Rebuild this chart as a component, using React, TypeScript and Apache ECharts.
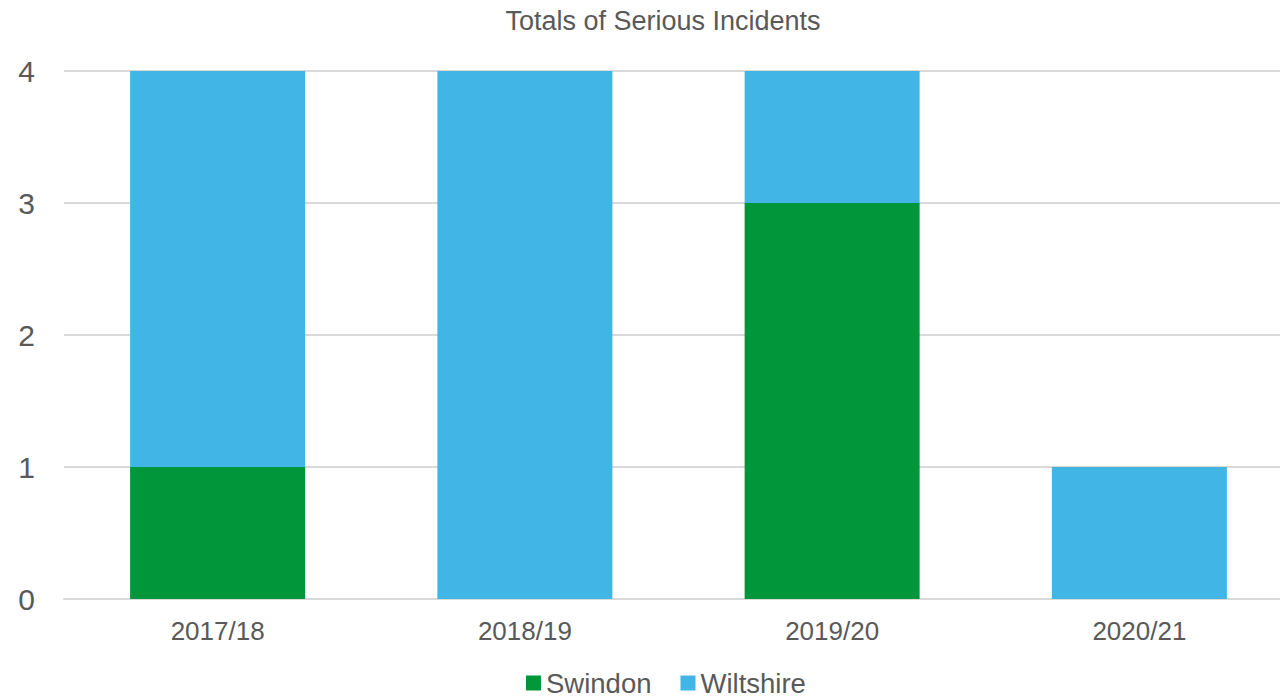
import React, { useEffect, useRef } from "react";
import * as echarts from "echarts";

const categories = ["2017/18", "2018/19", "2019/20", "2020/21"];
const swindon = [1, 0, 3, 0];
const wiltshire = [3, 4, 1, 1];
const yTicks = [0, 1, 2, 3, 4];

export default function App() {
  const ref = useRef<HTMLDivElement>(null);
  useEffect(() => {
    if (!ref.current) return;
    const chart = echarts.init(ref.current, undefined, { renderer: "svg" });
    const font = "Liberation Sans, Arial, sans-serif";
    chart.setOption({
      animation: false,
      title: {
        text: "Totals of Serious Incidents",
        left: 658,
        textAlign: "center",
        top: 2,
        textStyle: { color: "#595959", fontSize: 27, fontWeight: "normal", fontFamily: font },
      },
      legend: {
        data: ["Swindon", "Wiltshire"],
        left: 526,
        top: 669,
        icon: "rect",
        itemWidth: 15,
        itemHeight: 15,
        itemGap: 29,
        padding: 0,
        textStyle: { color: "#595959", fontSize: 27.5, lineHeight: 22, fontFamily: font },
      },
      grid: {
        left: 64,
        width: 1229,
        top: 71,
        height: 528,
        containLabel: false,
        outerBoundsMode: "none",
      },
      xAxis: {
        type: "category",
        data: categories,
        axisLine: { lineStyle: { color: "#d9d9d9", width: 2 } },
        axisTick: { show: false },
        axisLabel: { color: "#595959", fontSize: 26, fontFamily: font, margin: 19 },
      },
      yAxis: {
        type: "value",
        min: yTicks[0],
        max: yTicks[yTicks.length - 1],
        interval: 1,
        axisLine: { show: false },
        axisTick: { show: false },
        axisLabel: { color: "#595959", fontSize: 30, fontFamily: font, margin: 29 },
        splitLine: { lineStyle: { color: "#d9d9d9", width: 2 } },
      },
      series: [
        {
          name: "Swindon",
          type: "bar",
          stack: "total",
          data: swindon,
          barWidth: 175,
          itemStyle: { color: "#009639" },
        },
        {
          name: "Wiltshire",
          type: "bar",
          stack: "total",
          data: wiltshire,
          barWidth: 175,
          itemStyle: { color: "#41B6E6" },
        },
      ],
    });
    return () => chart.dispose();
  }, []);
  return (
    <div
      ref={ref}
      style={{ position: "absolute", left: 0, top: 0, width: 1280, height: 697, background: "#fff" }}
    />
  );
}
